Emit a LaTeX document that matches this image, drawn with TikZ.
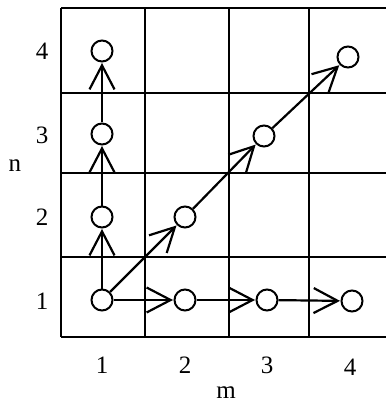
\documentclass[tikz,border=0pt]{standalone}
\usepackage{fontspec}
\setmainfont{Liberation Serif}
\usepackage{tikz}
\usetikzlibrary{arrows.meta}

\begin{document}
\begin{tikzpicture}[
  x=1pt, y=-1pt,
  font=\fontsize{25}{30}\selectfont,
  site/.style={draw, circle, line width=2pt, minimum size=21pt, inner sep=0pt},
  arrow/.style={-{Straight Barb[length=24pt, width=25pt, line width=2.2pt]}, line width=2.2pt, shorten >=0.5pt},
  gridline/.style={line width=1.8pt}
]
  \useasboundingbox (0,0) rectangle (386,406);

  % grid, open on the right
  \draw[gridline] (61,8) -- (386,8);
  \draw[gridline] (61,93) -- (386,93);
  \draw[gridline] (61,173) -- (386,173);
  \draw[gridline] (61,257) -- (386,257);
  \draw[gridline] (61,337) -- (386,337);
  \draw[gridline] (61,8) -- (61,337);
  \draw[gridline] (145,8) -- (145,337);
  \draw[gridline] (229,8) -- (229,337);
  \draw[gridline] (309,8) -- (309,337);

  % axis labels
  \node (n_lab) at (15,166) {n};
  \node (n_1) at (42,301) {1};
  \node (n_2) at (42,217) {2};
  \node (n_3) at (42,135) {3};
  \node (n_4) at (42,51) {4};
  \node (m_1) at (102,365) {1};
  \node (m_2) at (185,365) {2};
  \node (m_3) at (267,365) {3};
  \node (m_4) at (350,367) {4};
  \node (m_lab) at (226,393) {m};

  % sites
  \node[site] (s11) at (102,300) {};
  \node[site] (s12) at (102,217) {};
  \node[site] (s13) at (102,134) {};
  \node[site] (s14) at (102,51) {};
  \node[site] (s21) at (185,300) {};
  \node[site] (s31) at (267,300) {};
  \node[site] (s41) at (352,301) {};
  \node[site] (s22) at (185,217) {};
  \node[site] (s33) at (264,136) {};
  \node[site] (s44) at (348,57) {};

  \draw[arrow] (s11) -- (s12);
  \draw[arrow] (s12) -- (s13);
  \draw[arrow] (s13) -- (s14);
  \draw[arrow] (s11) -- (s21);
  \draw[arrow] (s21) -- (s31);
  \draw[arrow] (s31) -- (s41);
  \draw[arrow] (s11) -- (s22);
  \draw[arrow] (s22) -- (s33);
  \draw[arrow] (s33) -- (s44);
\end{tikzpicture}
\end{document}
